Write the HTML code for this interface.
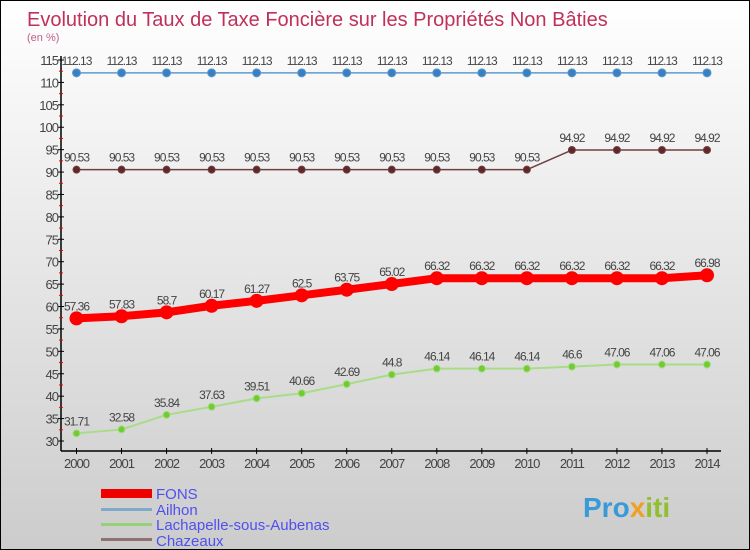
<!DOCTYPE html>
<html><head><meta charset="utf-8"><style>
body{margin:0}
#c{position:relative;width:748px;height:548px;border:1px solid #000;background:linear-gradient(#fff,#ccc);font-family:"Liberation Sans",sans-serif;overflow:hidden}
</style></head><body>
<div id="c">
<svg id="s" width="748" height="548" style="position:absolute;left:0;top:0">
<text x="26" y="25" font-size="20" fill="#c0305a">Evolution du Taux de Taxe Foncière sur les Propriétés Non Bâties</text>
<text x="26" y="40" font-size="11" fill="#c0608a">(en %)</text>
<g id="axes"></g><g id="series"></g>
<g>
<rect x="100" y="488" width="51" height="9" fill="#e00"/>
<text x="155" y="498" font-size="15" fill="#5050f0">FONS</text>
<rect x="100" y="507" width="51" height="3" fill="#80a8c8"/>
<text x="155" y="514" font-size="15" fill="#5050f0">Ailhon</text>
<rect x="100" y="522" width="51" height="3" fill="#98d078"/>
<text x="155" y="529" font-size="15" fill="#5050f0">Lachapelle-sous-Aubenas</text>
<rect x="100" y="537" width="51" height="3" fill="#907070"/>
<text x="155" y="545" font-size="15" fill="#5050f0">Chazeaux</text>
</g>
<text x="582" y="516" font-size="28" font-weight="bold" fill="#3a9ad8">Pro<tspan fill="#f0a020">x</tspan><tspan fill="#90c030">iti</tspan></text>
</svg>
</div>
<script>
const years=[2000,2001,2002,2003,2004,2005,2006,2007,2008,2009,2010,2011,2012,2013,2014];
const yTicks=[30,35,40,45,50,55,60,65,70,75,80,85,90,95,100,105,110,115];
const ailhon=[112.13,112.13,112.13,112.13,112.13,112.13,112.13,112.13,112.13,112.13,112.13,112.13,112.13,112.13,112.13];
const chazeaux=[90.53,90.53,90.53,90.53,90.53,90.53,90.53,90.53,90.53,90.53,90.53,94.92,94.92,94.92,94.92];
const fons=[57.36,57.83,58.7,60.17,61.27,62.5,63.75,65.02,66.32,66.32,66.32,66.32,66.32,66.32,66.98];
const lachapelle=[31.71,32.58,35.84,37.63,39.51,40.66,42.69,44.8,46.14,46.14,46.14,46.6,47.06,47.06,47.06];
const NS="http://www.w3.org/2000/svg";
const X=i=>75.5+i*(706-75.5)/(years.length-1);
const Y=v=>440-(v-30)*(440-59)/85;
function mk(t,a,p){const e=document.createElementNS(NS,t);for(const k in a)e.setAttribute(k,a[k]);p.appendChild(e);return e;}
const ax=document.getElementById('axes');
let yl=mk('line',{x1:60,y1:55,x2:60,y2:450,stroke:'#000','stroke-width':1.5},ax);


let xl=mk('line',{x1:60,y1:450,x2:720,y2:450,stroke:'#000','stroke-width':1.5},ax);


yTicks.forEach(v=>{
 mk('line',{x1:57,y1:Y(v),x2:63,y2:Y(v),stroke:'#000'},ax);
 if(v<115)mk('line',{x1:58,y1:Y(v+2.5),x2:62,y2:Y(v+2.5),stroke:'#e00'},ax);
 const t=mk('text',{x:57,y:Y(v)+5,'font-size':13,fill:'#444','text-anchor':'end','letter-spacing':-1},ax);t.textContent=v;
 
 
});
years.forEach((y,i)=>{
 mk('line',{x1:X(i),y1:447,x2:X(i),y2:453,stroke:'#000'},ax);
 const t=mk('text',{x:X(i),y:467,'font-size':13,fill:'#444','text-anchor':'middle','letter-spacing':-1},ax);t.textContent=y;
 
 
});
const sg=document.getElementById('series');
function series(d,name,col,w,r,dot){
 const g=mk('g',{},sg);
 
 
 const pl=mk('polyline',{points:d.map((v,i)=>X(i)+','+Y(v)).join(' '),fill:'none',stroke:col,'stroke-width':w,'stroke-linejoin':'round'},g);
 
 
 d.forEach((v,i)=>{
  const c=mk('circle',{cx:X(i),cy:Y(v),r:r,fill:dot,stroke:col,'stroke-width':1},g);
  
  
  const t=mk('text',{x:X(i),y:Y(v)-8,'font-size':12,fill:'#444','text-anchor':'middle','letter-spacing':-1},g);t.textContent=v;
  
  
 });
}
series(ailhon,'ailhon','#5a9ad0',1.5,4,'#3a80c0');
series(chazeaux,'chazeaux','#704040',1.5,3.5,'#602828');
series(lachapelle,'lachapelle','#a8dc88',2,3.5,'#70cc30');
series(fons,'fons','#f00',8,6.5,'#f00');
</script>
</body></html>
